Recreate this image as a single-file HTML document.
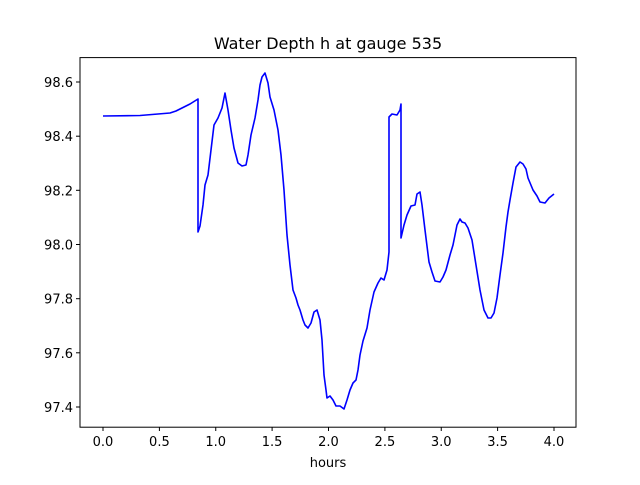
<!DOCTYPE html>
<html><head><style>body{margin:0;background:#fff}svg text{font-family:"DejaVu Sans","Liberation Sans",sans-serif;fill:#000}</style></head>
<body>
<svg width="640" height="480" viewBox="0 0 640 480" xmlns="http://www.w3.org/2000/svg">
<rect width="640" height="480" fill="#fff"/>
<text x="328" y="49" font-size="16" text-anchor="middle">Water Depth h at gauge 535</text>
<g stroke="#000" stroke-width="1">
<line x1="103" y1="427" x2="103" y2="431"/><line x1="159.4" y1="427" x2="159.4" y2="431"/><line x1="215.75" y1="427" x2="215.75" y2="431"/><line x1="272.1" y1="427" x2="272.1" y2="431"/><line x1="328.5" y1="427" x2="328.5" y2="431"/><line x1="384.9" y1="427" x2="384.9" y2="431"/><line x1="441.25" y1="427" x2="441.25" y2="431"/><line x1="497.6" y1="427" x2="497.6" y2="431"/><line x1="554" y1="427" x2="554" y2="431"/>
<line x1="76" y1="407" x2="80" y2="407"/><line x1="76" y1="352.8" x2="80" y2="352.8"/><line x1="76" y1="298.7" x2="80" y2="298.7"/><line x1="76" y1="244.5" x2="80" y2="244.5"/><line x1="76" y1="190.3" x2="80" y2="190.3"/><line x1="76" y1="136.2" x2="80" y2="136.2"/><line x1="76" y1="82" x2="80" y2="82"/>
</g>
<g font-size="13" text-anchor="middle">
<text x="103" y="446">0.0</text><text x="159.4" y="446">0.5</text><text x="215.75" y="446">1.0</text><text x="272.1" y="446">1.5</text><text x="328.5" y="446">2.0</text><text x="384.9" y="446">2.5</text><text x="441.25" y="446">3.0</text><text x="497.6" y="446">3.5</text><text x="554" y="446">4.0</text>
<text x="328" y="467">hours</text>
</g>
<g font-size="13" text-anchor="end">
<text x="73" y="412">97.4</text><text x="73" y="357.8">97.6</text><text x="73" y="303.7">97.8</text><text x="73" y="249.5">98.0</text><text x="73" y="195.3">98.2</text><text x="73" y="141.2">98.4</text><text x="73" y="87">98.6</text>
</g>
<polyline fill="none" stroke="#0000ff" stroke-width="1.6" stroke-linejoin="round" points="103,116 140,115.5 170,113 176,111 190,104 198,99 198,232 200,226 203,205 205,185 208,175 211,150 214,125 218,118 222,108 225,93 228,110 231,130 234,148 238,163 242,166 246,165 248,155 251,135 255,118 258,100 260,85 262,77 265,73 268,83 270,97 274,110 278,130 281,155 284,190 287,235 290,265 293,290 296,298 298,305 300,310 303,320 305,325 308,328 311,323 314,312 317,310 320,320 322,340 324,375 326,390 327,398 330,396 333,400 336,406 340,406 344,409 347,400 350,390 353,383 356,380 358,370 360,355 363,341 367,328 370,310 374,292 378,283 381,278 384,280 387,270 389,252 389,117 392,114 397,115 400,110 401,104 401,238 404,225 407,215 411,206 415,205 417,194 420,192 422,205 425,230 429,262 432,272 435,281 440,282 443,277 446,270 450,255 453,245 457,225 460,219 462,222 465,223 468,228 472,240 476,265 480,290 484,310 488,318 491,318 494,313 497,298 500,275 503,253 506,227 508,212 510,200 513,183 516,167 520,162 523,164 526,169 528,178 533,190 537,196 540,202 545,203 549,198 554,194"/>
<rect x="80" y="57.6" width="496" height="369.6" fill="none" stroke="#000" stroke-width="1"/>
</svg>
</body></html>
